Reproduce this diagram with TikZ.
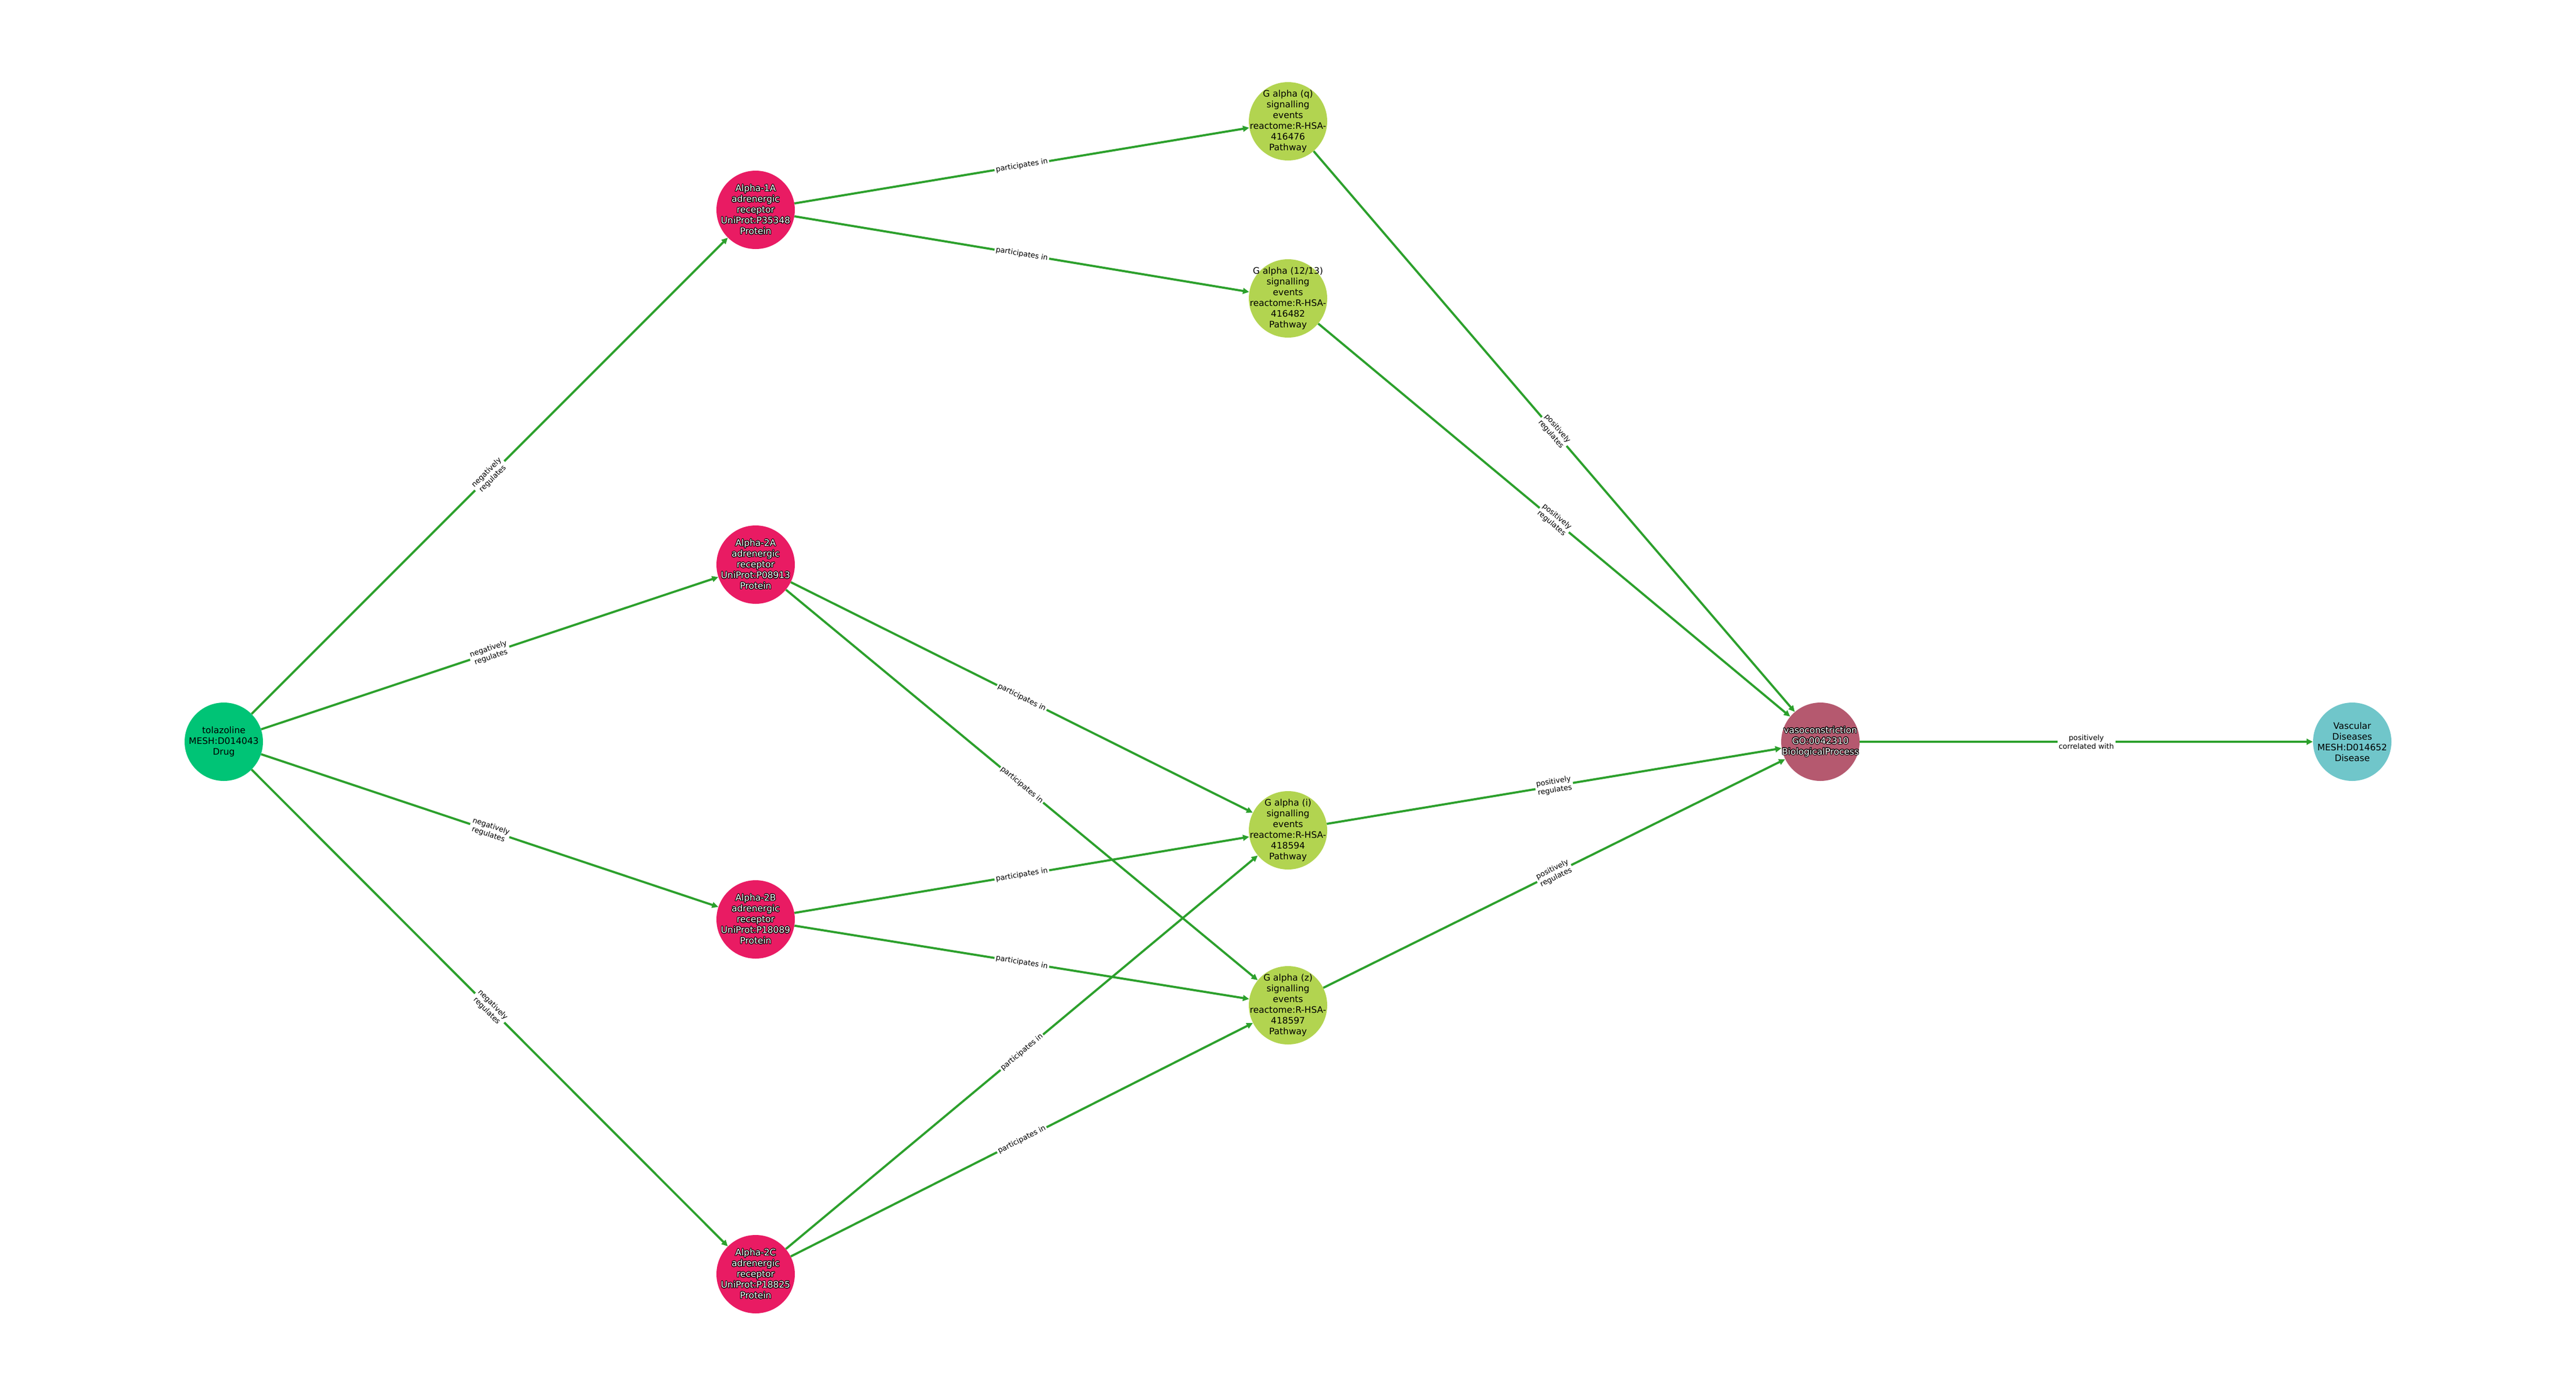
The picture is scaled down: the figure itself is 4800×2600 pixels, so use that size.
\documentclass[tikz,border=0pt]{standalone}
\usepackage{fontspec}
\setmainfont{DejaVu Sans}
\usepackage{contour}
\contourlength{0.6pt}
\contournumber{24}
\usetikzlibrary{arrows.meta}
\definecolor{edgegreen}{HTML}{2CA02C}
\definecolor{drugc}{HTML}{00C476}
\definecolor{protc}{HTML}{E91B63}
\definecolor{pathc}{HTML}{B2D450}
\definecolor{procc}{HTML}{B5596F}
\definecolor{disc}{HTML}{70C6CA}
\newcommand{\olt}[1]{\contour{black}{#1}}
\begin{document}
\begin{tikzpicture}[x=0.6pt,y=-0.6pt,
  ent/.style={circle, minimum size=87.6pt, inner sep=0pt},
  ntext/.style={align=center, inner sep=0pt, font=\fontsize{10}{12}\selectfont},
  wtext/.style={ntext, text=white},
  drug/.style={ent, fill=drugc},
  prot/.style={ent, fill=protc},
  path/.style={ent, fill=pathc},
  proc/.style={ent, fill=procc},
  dis/.style={ent, fill=disc},
  rel/.style={draw=edgegreen, line width=2.4pt, -{Triangle[length=7pt,width=6.5pt]}},
  lab/.style={midway, sloped, fill=white, inner sep=1.5pt, align=center,
    font=\fontsize{8.2}{9.6}\selectfont, text=black}
]
\useasboundingbox (0,0) rectangle (4800,2600);

\node[drug, label={[ntext]center:{tolazoline\\MESH:D014043\\Drug}}] (tol) at (417,1382) {};

\node[prot, label={[wtext]center:{\olt{Alpha-1A}\\\olt{adrenergic}\\\olt{receptor}\\\olt{UniProt:P35348}\\\olt{Protein}}}] (a1a) at (1408,391) {};
\node[prot, label={[wtext]center:{\olt{Alpha-2A}\\\olt{adrenergic}\\\olt{receptor}\\\olt{UniProt:P08913}\\\olt{Protein}}}] (a2a) at (1408,1052) {};
\node[prot, label={[wtext]center:{\olt{Alpha-2B}\\\olt{adrenergic}\\\olt{receptor}\\\olt{UniProt:P18089}\\\olt{Protein}}}] (a2b) at (1408,1713) {};
\node[prot, label={[wtext]center:{\olt{Alpha-2C}\\\olt{adrenergic}\\\olt{receptor}\\\olt{UniProt:P18825}\\\olt{Protein}}}] (a2c) at (1408,2374) {};

\node[path, label={[ntext]center:{G alpha (q)\\signalling\\events\\reactome:R-HSA-\\416476\\Pathway}}] (gq) at (2400,226) {};
\node[path, label={[ntext]center:{G alpha (12/13)\\signalling\\events\\reactome:R-HSA-\\416482\\Pathway}}] (g12) at (2400,556) {};
\node[path, label={[ntext]center:{G alpha (i)\\signalling\\events\\reactome:R-HSA-\\418594\\Pathway}}] (gi) at (2400,1547) {};
\node[path, label={[ntext]center:{G alpha (z)\\signalling\\events\\reactome:R-HSA-\\418597\\Pathway}}] (gz) at (2400,1873) {};

\node[proc, label={[wtext]center:{\olt{vasoconstriction}\\\olt{GO:0042310}\\\olt{BiologicalProcess}}}] (vaso) at (3392,1382) {};
\node[dis, label={[ntext]center:{Vascular\\Diseases\\MESH:D014652\\Disease}}] (vd) at (4383,1382) {};

\draw[rel] (tol) -- node[lab] {negatively\\regulates} (a1a);
\draw[rel] (tol) -- node[lab] {negatively\\regulates} (a2a);
\draw[rel] (tol) -- node[lab] {negatively\\regulates} (a2b);
\draw[rel] (tol) -- node[lab] {negatively\\regulates} (a2c);

\draw[rel] (a1a) -- node[lab] {participates in} (gq);
\draw[rel] (a1a) -- node[lab] {participates in} (g12);
\draw[rel] (a2a) -- node[lab] {participates in} (gi);
\draw[rel] (a2a) -- node[lab] {participates in} (gz);
\draw[rel] (a2b) -- node[lab] {participates in} (gi);
\draw[rel] (a2b) -- node[lab] {participates in} (gz);
\draw[rel] (a2c) -- node[lab] {participates in} (gi);
\draw[rel] (a2c) -- node[lab] {participates in} (gz);

\draw[rel] (gq) -- node[lab] {positively\\regulates} (vaso);
\draw[rel] (g12) -- node[lab] {positively\\regulates} (vaso);
\draw[rel] (gi) -- node[lab] {positively\\regulates} (vaso);
\draw[rel] (gz) -- node[lab] {positively\\regulates} (vaso);

\draw[rel] (vaso) -- node[lab] {positively\\correlated with} (vd);
\end{tikzpicture}
\end{document}
